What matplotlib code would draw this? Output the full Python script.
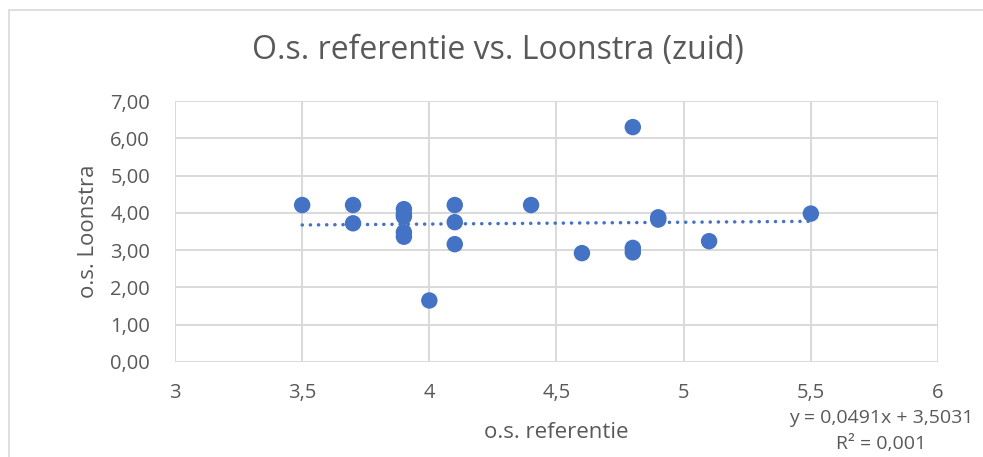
import matplotlib
matplotlib.use("Agg")
import matplotlib.pyplot as plt
import numpy as np
from matplotlib.patches import Rectangle
from matplotlib.ticker import FuncFormatter

# data
referentie = [3.5, 3.7, 3.7, 3.9, 3.9, 3.9, 3.9, 3.9, 4.0, 4.1, 4.1, 4.1, 4.4,
              4.6, 4.8, 4.8, 4.8, 4.9, 4.9, 5.1, 5.5]
loonstra = [4.21, 4.21, 3.72, 4.10, 3.97, 3.90, 3.48, 3.36, 1.65, 4.21, 3.75, 3.16, 4.21,
            2.92, 6.30, 3.06, 2.94, 3.88, 3.82, 3.24, 3.98]
slope = 0.0491
intercept = 3.5031
r2_label = "0,001"

title = "O.s. referentie vs. Loonstra (zuid)"
xlabel = "o.s. referentie"
ylabel = "o.s. Loonstra"

blue = "#4472C4"
grey_text = "#595959"
grid_col = "#D9D9D9"

plt.rcParams['font.family'] = ['Open Sans', 'DejaVu Sans']

fig = plt.figure(figsize=(9.83, 4.57), dpi=100)
W, H = 983, 457
ax = fig.add_axes([175 / W, 1 - 362 / H, (938 - 175) / W, (362 - 101) / H])

# chart area border
fig.patches.append(Rectangle((9 / W, -0.1), 1.2, 1 - 10 / H + 0.1, transform=fig.transFigure,
                             fill=False, edgecolor="#D9D9D9", linewidth=1.2))

ax.set_xlim(3, 6)
ax.set_ylim(0, 7)
ax.set_xticks(np.arange(3, 6.01, 0.5))
ax.set_yticks(np.arange(0, 7.01, 1))
ax.grid(True, color=grid_col, linewidth=1.4)
ax.set_axisbelow(True)
for s in ax.spines.values():
    s.set_visible(False)
ax.tick_params(length=0, labelsize=14.5, colors=grey_text)
ax.tick_params(axis='x', pad=15)
ax.tick_params(axis='y', pad=18)
ax.xaxis.set_major_formatter(FuncFormatter(lambda v, p: ("%g" % v).replace(".", ",")))
ax.yaxis.set_major_formatter(FuncFormatter(lambda v, p: ("%.2f" % v).replace(".", ",")))

# trendline
xt = np.array([min(referentie), max(referentie)])
ax.plot(xt, slope * xt + intercept, color=blue, linestyle=(0, (0.05, 2.3)),
        linewidth=2.5, dash_capstyle='round', zorder=2)

ax.scatter(referentie, loonstra, s=140, color=blue, edgecolors='none', zorder=3)

ax.set_xlabel(xlabel, fontsize=16, color=grey_text, labelpad=14)
ax.set_ylabel(ylabel, fontsize=16, color=grey_text, labelpad=8)
fig.text(498 / W, 1 - 50 / H, title, fontsize=23, color=grey_text, ha='center', va='center')

eq = "y = " + ("%.4f" % slope).replace(".", ",") + "x + " + ("%.4f" % intercept).replace(".", ",")
fig.text(881 / W, 1 - 418 / H, eq, fontsize=14, color=grey_text, ha='center', va='center')
fig.text(881 / W, 1 - 444 / H, "R² = " + r2_label, fontsize=14, color=grey_text,
         ha='center', va='center')

fig.savefig("out.png", dpi=100)
